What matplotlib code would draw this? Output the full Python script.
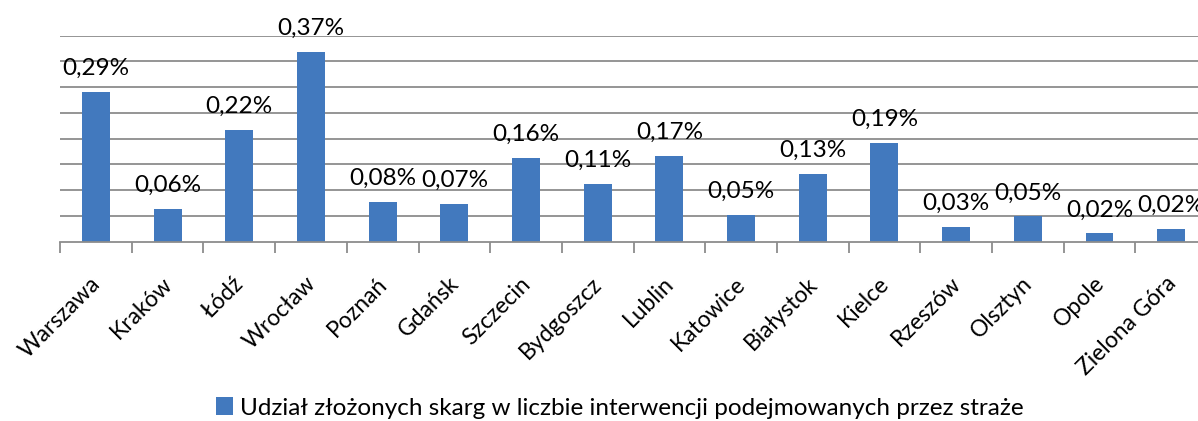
import matplotlib
matplotlib.use("Agg")
import matplotlib.pyplot as plt
from matplotlib.patches import Patch

plt.rcParams['font.family'] = ['Lato', 'DejaVu Sans']

cities = ["Warszawa", "Kraków", "Łódź", "Wrocław", "Poznań", "Gdańsk", "Szczecin",
          "Bydgoszcz", "Lublin", "Katowice", "Białystok", "Kielce", "Rzeszów",
          "Olsztyn", "Opole", "Zielona Góra"]
values = [0.291, 0.063, 0.217, 0.368, 0.078, 0.073, 0.162, 0.112, 0.167, 0.052,
          0.131, 0.191, 0.028, 0.049, 0.016, 0.024]
legend_label = "Udział złożonych skarg w liczbie interwencji podejmowanych przez straże"

W, H = 1198, 421
fig = plt.figure(figsize=(W / 100, H / 100), dpi=100)
left, right = 60.1, 1207
top, base = 35.7, 241.7
ax = fig.add_axes([left / W, 1 - base / H, (right - left) / W, (base - top) / H])

bar_color = '#4279BE'
x = list(range(len(cities)))
ax.bar(x, values, width=0.39, color=bar_color, zorder=3)

ax.set_xlim(-0.5, len(cities) - 0.5)
ax.set_ylim(0, 0.40)
ax.set_yticks([i * 0.05 for i in range(1, 9)])
ax.yaxis.grid(True, color='#8C8C8C', linewidth=1.3, zorder=0)
ax.tick_params(axis='y', length=0, labelleft=False)

for s in ['top', 'right', 'left']:
    ax.spines[s].set_visible(False)
ax.spines['bottom'].set_color('#8C8C8C')
ax.spines['bottom'].set_linewidth(1.3)
ax.spines['bottom'].set_zorder(4)

# category boundary ticks
ax.set_xticks([i - 0.5 for i in range(len(cities) + 1)], minor=False)
ax.set_xticklabels([])
ax.tick_params(axis='x', which='major', length=8, width=1.3, color='#8C8C8C', direction='out')

for i, name in enumerate(cities):
    ax.annotate(name, xy=(i, 0), xytext=(-4.5, -22.5), textcoords='offset points',
                rotation=45, rotation_mode='anchor', ha='right', va='top',
                fontsize=16.5, color='black', annotation_clip=False)

for i, v in enumerate(values):
    ax.annotate(f"{v:.2f}%".replace('.', ','), xy=(i, v), xytext=(0, 17),
                textcoords='offset points', ha='center', va='center',
                fontsize=17.5, color='black', annotation_clip=False)

handle = Patch(facecolor=bar_color, edgecolor='none')
fig.legend([handle], [legend_label], loc='center', bbox_to_anchor=(620 / W, 1 - 408 / H),
           frameon=False, fontsize=17.5, handlelength=0.7, handleheight=0.7,
           handletextpad=0.3)

fig.savefig("out.png", dpi=100)
